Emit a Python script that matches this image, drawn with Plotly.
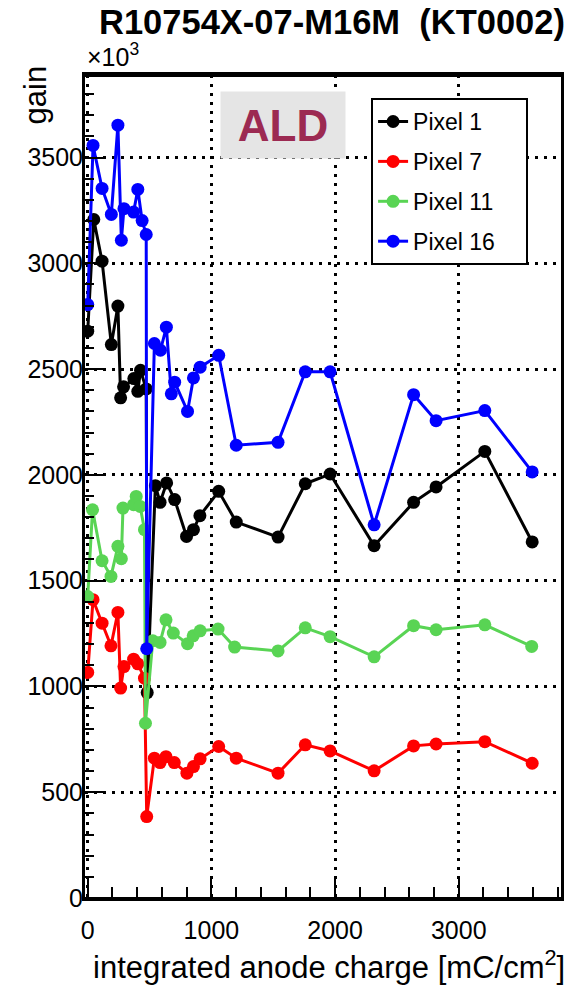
import plotly.graph_objects as go

# integrated anode charge [mC/cm^2] and gain [x10^3] for each pixel
charge_p1 = [0, 49, 116, 191, 244, 266, 290, 373, 405, 427, 473, 481, 547, 585, 638, 703,
             799, 855, 907, 1059, 1201, 1539, 1759, 1960, 2316, 2635, 2817, 3211, 3594]
gain_p1 = [2679, 3207, 3010, 2616, 2798, 2364, 2416, 2455, 2395, 2494, 2406, 971, 1949, 1870,
           1962, 1883, 1709, 1741, 1807, 1922, 1777, 1706, 1958, 2004, 1665, 1870, 1943, 2111, 1683]

charge_p7 = [0, 43, 116, 188, 244, 266, 293, 371, 405, 459, 477, 539, 585, 633, 700, 802,
             855, 909, 1059, 1201, 1539, 1759, 1960, 2316, 2635, 2817, 3211, 3594]
gain_p7 = [1066, 1410, 1299, 1192, 1350, 992, 1094, 1129, 1107, 1039, 385, 661, 640, 668,
           640, 590, 621, 658, 716, 661, 590, 724, 695, 601, 719, 728, 739, 637]

charge_p11 = [0, 39, 116, 188, 244, 272, 285, 371, 392, 424, 459, 467, 526, 585, 633, 692,
              807, 853, 909, 1054, 1188, 1539, 1759, 1960, 2316, 2635, 2817, 3211, 3590]
gain_p11 = [1425, 1835, 1594, 1520, 1662, 1604, 1843, 1859, 1898, 1851, 1741, 826, 1216, 1208,
            1315, 1252, 1202, 1239, 1263, 1271, 1186, 1168, 1277, 1235, 1140, 1287, 1268, 1291, 1189]

charge_p16 = [0, 43, 116, 191, 244, 272, 293, 371, 405, 440, 473, 477, 539, 588, 636, 676,
              703, 807, 855, 909, 1059, 1201, 1539, 1759, 1960, 2316, 2635, 2817, 3211, 3594]
gain_p16 = [2805, 3557, 3354, 3231, 3653, 3109, 3258, 3242, 3349, 3202, 3136, 1178, 2621, 2589,
            2698, 2383, 2438, 2300, 2458, 2509, 2565, 2140, 2154, 2487, 2487, 1764, 2379, 2256,
            2304, 2014]

series_names = ["Pixel 1", "Pixel 7", "Pixel 11", "Pixel 16"]
series_colors = ["#000000", "#FF0000", "#59D454", "#0000FF"]
series_x = [charge_p1, charge_p7, charge_p11, charge_p16]
series_y = [gain_p1, gain_p7, gain_p11, gain_p16]

FONT = "Liberation Sans"
NBSP = "\u00a0"

fig = go.Figure()
for name, color, xs, ys in zip(series_names, series_colors, series_x, series_y):
    fig.add_trace(go.Scatter(
        x=xs, y=ys, name=name + NBSP * (8 - len(name) + 4), mode="lines+markers", legendgroup=name,
        line=dict(color=color, width=3),
        marker=dict(color=color, size=13, symbol="circle"),
    ))

tick_font = dict(family=FONT, size=25, color="black")

fig.update_xaxes(
    range=[-22, 3827], tick0=0, dtick=1000,
    showline=True, linecolor="black", linewidth=3, mirror=True,
    ticks="inside", ticklen=22, tickwidth=2, tickcolor="black",
    minor=dict(ticks="inside", dtick=200, ticklen=11, tickwidth=2, tickcolor="black"),
    showgrid=True, gridcolor="black", gridwidth=2.5, griddash="3px,6px",
    zeroline=False, tickfont=tick_font, ticklabelstandoff=8,
)
fig.update_yaxes(
    range=[0, 3890], tick0=0, dtick=500,
    showline=True, linecolor="black", linewidth=3, mirror=True,
    ticks="inside", ticklen=18, tickwidth=2, tickcolor="black",
    minor=dict(ticks="inside", dtick=100, ticklen=9, tickwidth=2, tickcolor="black"),
    showgrid=True, gridcolor="black", gridwidth=2.5, griddash="3px,6px",
    zeroline=False, tickfont=tick_font, ticklabelstandoff=-6,
)

annotations = [
    # frame around the plot area (border of an empty box the size of the axes)
    dict(text=" ", x=0.5, y=0.5, xanchor="center", yanchor="middle",
         width=476, height=820, borderpad=0, borderwidth=3, bordercolor="black",
         bgcolor="rgba(0,0,0,0)", font=dict(family=FONT, size=10)),
    dict(text="<b>R10754X-07-M16M  (KT0002)</b>", x=1.012, y=1.09, xanchor="right", yanchor="top",
         font=dict(family=FONT, size=34.5, color="black")),
    dict(text="×10<sup>3</sup>", x=0.0, y=1.002, xanchor="left", yanchor="bottom",
         font=dict(family=FONT, size=25, color="black")),
    dict(text="gain", x=-0.104, y=1.014, xanchor="center", yanchor="top", textangle=-90,
         font=dict(family=FONT, size=31, color="black")),
    dict(text="integrated anode charge [mC/cm<sup>2</sup>]", x=1.012, y=-0.082, xanchor="right",
         yanchor="middle", font=dict(family=FONT, size=31, color="black")),
    # "ALD" label on a grey box
    dict(text="<b>ALD</b>", x=0.4155, y=0.9393, xanchor="center", yanchor="middle",
         width=124, height=66, bgcolor="#E5E5E5", borderpad=0, align="center", valign="middle",
         font=dict(family=FONT, size=44, color="#9C2A52")),
]
for a in annotations:
    fig.add_annotation(xref="paper", yref="paper", showarrow=False, **a)

fig.update_layout(
    width=575, height=986,
    margin=dict(l=85, r=11, t=75, b=88),
    paper_bgcolor="white", plot_bgcolor="white",
    showlegend=True,
    legend=dict(
        x=0.601, y=0.972, xanchor="left", yanchor="top",
        bgcolor="white", bordercolor="black", borderwidth=2,
        font=dict(family=FONT, size=23, color="black"),
        tracegroupgap=7,
    ),
)

fig.write_html("out.html")
